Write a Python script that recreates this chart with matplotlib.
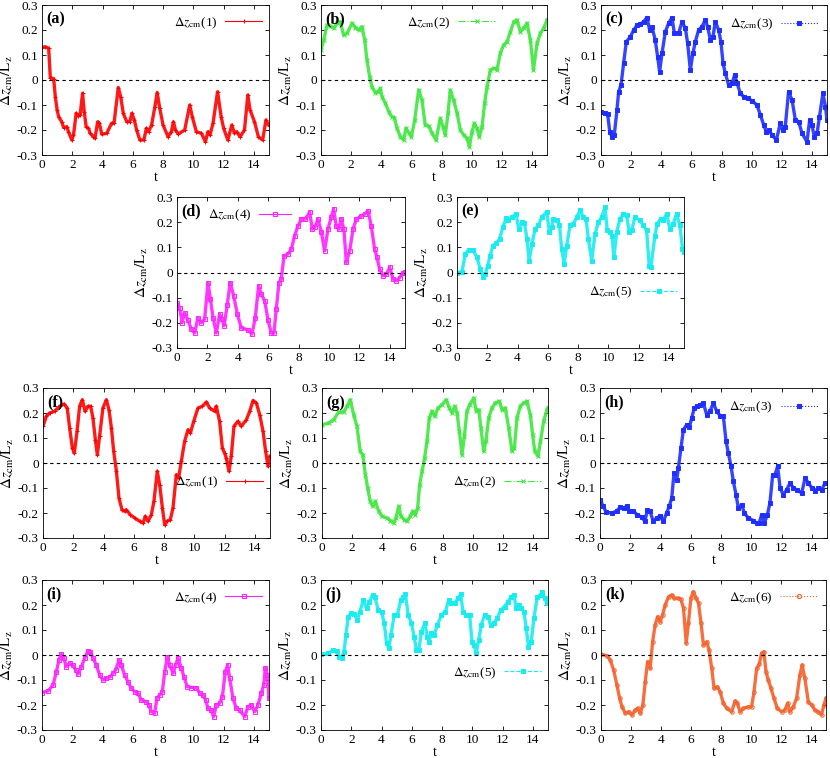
import matplotlib
matplotlib.use("Agg")
import matplotlib.pyplot as plt
from matplotlib.lines import Line2D

plt.rcParams['font.family'] = ['Liberation Serif', 'DejaVu Serif']
plt.rcParams['mathtext.fontset'] = 'stix'

# ---- data (t, dz_cm/Lz) ----
ta = [0, 0.2, 0.44, 0.55, 0.77, 0.88, 1.0, 1.1, 1.3, 1.43, 1.64, 1.75, 1.97, 2.08, 2.26, 2.41, 2.52, 2.68, 2.79,
      2.92, 3.07, 3.18, 3.4, 3.5, 3.68, 3.79, 3.95, 4.28, 4.6, 4.76, 5.04, 5.2, 5.37, 5.6, 5.8, 5.94, 6.1, 6.25,
      6.47, 6.73, 6.9, 7.04, 7.24, 7.46, 7.61, 7.78, 8.0, 8.33, 8.55, 8.68, 8.82, 9.0, 9.43, 9.76, 9.93, 10.2,
      10.53, 10.8, 10.96, 11.1, 11.3, 11.6, 11.84, 12.0, 12.28, 12.54, 12.72, 12.87, 13.09, 13.38, 13.6, 13.75,
      14.04, 14.3, 14.58, 14.8, 14.98]
za = [0.13, 0.133, 0.127, 0.01, 0.005, -0.067, -0.12, -0.147, -0.167, -0.19, -0.187, -0.207, -0.24, -0.22,
      -0.133, -0.144, -0.14, -0.053, -0.127, -0.187, -0.193, -0.213, -0.227, -0.233, -0.167, -0.173, -0.217,
      -0.213, -0.173, -0.173, -0.03, -0.067, -0.133, -0.167, -0.167, -0.133, -0.16, -0.2, -0.24, -0.24, -0.193,
      -0.207, -0.18, -0.107, -0.05, -0.113, -0.18, -0.227, -0.207, -0.167, -0.2, -0.216, -0.2, -0.1, -0.147,
      -0.207, -0.213, -0.247, -0.207, -0.22, -0.173, -0.047, -0.147, -0.193, -0.24, -0.18, -0.213, -0.207,
      -0.227, -0.2, -0.06, -0.12, -0.167, -0.227, -0.24, -0.16, -0.18]

tb = [0, 0.18, 0.4, 0.62, 0.84, 1.06, 1.28, 1.5, 1.73, 2.06, 2.28, 2.5, 2.72, 2.9, 3.05, 3.23, 3.38, 3.6, 3.78,
      3.94, 4.05, 4.27, 4.5, 4.7, 4.87, 5.04, 5.27, 5.49, 5.64, 5.82, 6.0, 6.22, 6.48, 6.7, 6.92, 7.15, 7.37,
      7.63, 7.92, 8.1, 8.25, 8.43, 8.58, 8.8, 9.03, 9.25, 9.47, 9.69, 9.85, 10.02, 10.18, 10.35, 10.5, 10.69,
      10.86, 11.02, 11.24, 11.46, 11.68, 11.9, 12.12, 12.35, 12.57, 12.8, 13.0, 13.24, 13.45, 13.67, 13.9, 14.1,
      14.34, 14.56, 14.78, 15.0]
zb = [0.12, 0.16, 0.22, 0.216, 0.207, 0.227, 0.233, 0.18, 0.187, 0.227, 0.21, 0.2, 0.213, 0.16, 0.08, 0.013,
      -0.027, -0.05, -0.047, -0.033, -0.067, -0.093, -0.127, -0.147, -0.15, -0.193, -0.227, -0.24, -0.193, -0.21,
      -0.227, -0.16, -0.04, -0.08, -0.18, -0.184, -0.213, -0.24, -0.153, -0.187, -0.22, -0.133, -0.04, -0.08,
      -0.133, -0.2, -0.22, -0.233, -0.267, -0.207, -0.173, -0.193, -0.227, -0.187, -0.093, -0.027, 0.04, 0.047,
      0.04, 0.107, 0.14, 0.153, 0.193, 0.233, 0.24, 0.193, 0.207, 0.227, 0.16, 0.04, 0.147, 0.187, 0.207, 0.24]

tc = [0, 0.29, 0.44, 0.58, 0.73, 0.88, 1.06, 1.17, 1.33, 1.5, 1.68, 1.95, 2.17, 2.4, 2.61, 2.83, 3.05, 3.23,
      3.38, 3.6, 3.76, 3.89, 4.05, 4.27, 4.49, 4.71, 4.87, 5.15, 5.38, 5.6, 5.75, 5.93, 6.1, 6.26, 6.48, 6.7,
      6.92, 7.08, 7.26, 7.43, 7.59, 7.81, 7.96, 8.1, 8.25, 8.47, 8.7, 8.87, 9.03, 9.25, 9.47, 9.73, 10.02, 10.35,
      10.58, 10.8, 10.97, 11.13, 11.35, 11.64, 11.9, 12.06, 12.23, 12.45, 12.68, 12.9, 13.12, 13.34, 13.67,
      13.85, 14.0, 14.16, 14.34, 14.5, 14.73, 14.9, 15.0]
zc = [-0.127, -0.133, -0.136, -0.207, -0.227, -0.22, -0.12, -0.047, -0.02, 0.067, 0.153, 0.173, 0.2, 0.22,
      0.224, 0.233, 0.25, 0.2, 0.213, 0.16, 0.093, 0.033, 0.107, 0.193, 0.227, 0.25, 0.187, 0.187, 0.233, 0.207,
      0.147, 0.04, 0.107, 0.153, 0.2, 0.213, 0.24, 0.213, 0.16, 0.173, 0.233, 0.2, 0.153, 0.067, 0.027, -0.02,
      -0.013, 0.02, -0.013, -0.053, -0.067, -0.073, -0.083, -0.1, -0.14, -0.18, -0.207, -0.2, -0.22, -0.24,
      -0.173, -0.2, -0.187, -0.047, -0.08, -0.16, -0.167, -0.213, -0.247, -0.16, -0.18, -0.227, -0.213, -0.147,
      -0.053, -0.107, -0.16]

td = [0, 0.18, 0.33, 0.5, 0.72, 0.94, 1.16, 1.38, 1.6, 1.82, 2.04, 2.2, 2.37, 2.59, 2.8, 2.96, 3.1, 3.3, 3.5,
      3.73, 3.97, 4.23, 4.67, 4.93, 5.15, 5.37, 5.55, 5.77, 5.99, 6.2, 6.38, 6.53, 6.71, 6.86, 7.04, 7.3, 7.52,
      7.74, 7.96, 8.18, 8.44, 8.73, 8.9, 9.06, 9.28, 9.5, 9.71, 9.93, 10.15, 10.3, 10.48, 10.64, 10.8, 10.98,
      11.14, 11.36, 11.58, 11.8, 12.13, 12.35, 12.57, 12.78, 13.0, 13.16, 13.33, 13.55, 13.77, 14.0, 14.21,
      14.43, 14.65, 14.87, 15.0]
zd = [-0.122, -0.14, -0.2, -0.16, -0.19, -0.225, -0.24, -0.18, -0.2, -0.185, -0.04, -0.106, -0.18, -0.24,
      -0.166, -0.185, -0.212, -0.13, -0.04, -0.093, -0.166, -0.22, -0.228, -0.245, -0.18, -0.053, -0.086, -0.113,
      -0.19, -0.24, -0.24, -0.146, -0.04, -0.026, 0.066, 0.073, 0.093, 0.146, 0.185, 0.212, 0.212, 0.24, 0.172,
      0.18, 0.212, 0.16, 0.086, 0.172, 0.22, 0.252, 0.185, 0.172, 0.212, 0.172, 0.04, 0.086, 0.172, 0.212, 0.225,
      0.232, 0.245, 0.185, 0.093, 0.06, 0.013, -0.013, -0.007, 0.02, -0.026, -0.033, -0.02, 0.0, 0.003]

te = [0, 0.33, 0.55, 0.77, 1.05, 1.32, 1.54, 1.71, 1.87, 2.02, 2.2, 2.37, 2.6, 2.81, 3.03, 3.25, 3.4, 3.63,
      3.91, 4.07, 4.29, 4.46, 4.62, 4.77, 4.95, 5.16, 5.38, 5.6, 5.93, 6.11, 6.26, 6.37, 6.59, 6.77, 6.92, 7.08,
      7.25, 7.47, 7.69, 7.91, 8.13, 8.35, 8.53, 8.68, 8.9, 9.12, 9.34, 9.56, 9.78, 9.93, 10.11, 10.24, 10.37,
      10.55, 10.77, 10.99, 11.21, 11.38, 11.54, 11.76, 12.09, 12.31, 12.53, 12.7, 12.81, 13.08, 13.23, 13.45,
      13.63, 13.85, 14.07, 14.29, 14.51, 14.73, 14.9, 15.0]
ze = [0, 0.003, 0.073, 0.09, 0.09, 0.06, 0.013, -0.016, -0.007, 0.027, 0.067, 0.107, 0.117, 0.133, 0.18, 0.216,
      0.207, 0.22, 0.233, 0.173, 0.2, 0.197, 0.133, 0.047, 0.113, 0.173, 0.187, 0.22, 0.24, 0.16, 0.18, 0.213,
      0.207, 0.187, 0.093, 0.033, 0.107, 0.187, 0.193, 0.22, 0.247, 0.22, 0.213, 0.133, 0.047, 0.153, 0.2, 0.22,
      0.26, 0.167, 0.16, 0.147, 0.06, 0.16, 0.213, 0.233, 0.227, 0.16, 0.167, 0.22, 0.207, 0.187, 0.167, 0.027,
      0.02, 0.147, 0.193, 0.213, 0.207, 0.233, 0.173, 0.193, 0.233, 0.187, 0.093, 0.08]

tf = [0, 0.22, 0.44, 0.77, 1.1, 1.39, 1.6, 1.76, 1.94, 2.07, 2.25, 2.42, 2.6, 2.78, 2.97, 3.15, 3.3, 3.46, 3.59,
      3.74, 3.96, 4.19, 4.36, 4.52, 4.67, 4.85, 5.02, 5.22, 5.4, 5.5, 5.77, 6.06, 6.39, 6.61, 6.76, 6.94, 7.16,
      7.33, 7.55, 7.71, 7.89, 8.04, 8.19, 8.41, 8.59, 8.81, 8.96, 9.14, 9.36, 9.58, 9.74, 9.96, 10.24, 10.53,
      10.8, 11.01, 11.34, 11.45, 11.67, 11.85, 12.0, 12.11, 12.29, 12.44, 12.62, 12.88, 13.1, 13.44, 13.66,
      13.88, 14.1, 14.32, 14.54, 14.71, 14.87, 15.0]
zf = [0.147, 0.187, 0.2, 0.207, 0.227, 0.236, 0.22, 0.14, 0.06, 0.04, 0.127, 0.227, 0.253, 0.207, 0.227,
      0.227, 0.18, 0.093, 0.033, 0.107, 0.22, 0.253, 0.213, 0.14, 0.047, -0.033, -0.14, -0.187, -0.193, -0.187,
      -0.207, -0.22, -0.233, -0.24, -0.213, -0.233, -0.207, -0.153, -0.033, -0.087, -0.18, -0.247, -0.233,
      -0.227, -0.18, -0.047, -0.06, 0.007, 0.087, 0.133, 0.12, 0.167, 0.22, 0.227, 0.244, 0.22, 0.207, 0.227,
      0.167, 0.06, 0.04, 0.02, -0.033, 0.027, 0.147, 0.167, 0.147, 0.173, 0.207, 0.25, 0.24, 0.193, 0.127,
      0.047, -0.013, 0.027]

tg = [0, 0.44, 0.77, 1.1, 1.44, 1.66, 1.88, 2.1, 2.32, 2.54, 2.7, 2.88, 3.03, 3.2, 3.36, 3.54, 3.76, 3.98,
      4.31, 4.54, 4.76, 4.91, 5.09, 5.24, 5.46, 5.64, 5.86, 6.02, 6.19, 6.35, 6.48, 6.64, 6.81, 6.97, 7.12, 7.3,
      7.48, 7.7, 7.96, 8.25, 8.45, 8.63, 8.8, 8.96, 9.12, 9.29, 9.45, 9.62, 9.8, 10.07, 10.24, 10.4, 10.55,
      10.73, 10.88, 11.06, 11.28, 11.5, 11.77, 11.95, 12.17, 12.39, 12.61, 12.77, 12.94, 13.16, 13.38, 13.6,
      13.83, 13.98, 14.12, 14.34, 14.5, 14.71, 14.93, 15.0]
zg = [0.153, 0.16, 0.173, 0.203, 0.204, 0.227, 0.253, 0.193, 0.147, 0.047, 0.033, -0.047, -0.1, -0.153, -0.173,
      -0.153, -0.193, -0.213, -0.22, -0.23, -0.24, -0.22, -0.173, -0.213, -0.227, -0.233, -0.213, -0.193,
      -0.207, -0.18, -0.087, -0.033, 0.02, 0.087, 0.18, 0.207, 0.187, 0.22, 0.233, 0.253, 0.22, 0.2, 0.227, 0.2,
      0.127, 0.033, 0.107, 0.207, 0.233, 0.26, 0.207, 0.213, 0.14, 0.047, 0.087, 0.18, 0.22, 0.24, 0.247, 0.213,
      0.22, 0.14, 0.047, 0.06, 0.18, 0.227, 0.24, 0.247, 0.193, 0.113, 0.047, 0.027, 0.087, 0.167, 0.213, 0.22]

th = [0, 0.22, 0.4, 0.77, 1.1, 1.32, 1.59, 1.76, 1.94, 2.2, 2.47, 2.75, 2.97, 3.13, 3.3, 3.52, 3.74, 3.96,
      4.19, 4.4, 4.58, 4.74, 4.89, 5.07, 5.18, 5.35, 5.51, 5.73, 5.9, 6.06, 6.23, 6.39, 6.61, 6.83, 7.05, 7.27,
      7.49, 7.71, 7.93, 8.15, 8.33, 8.48, 8.66, 8.81, 8.99, 9.14, 9.36, 9.54, 9.8, 10.13, 10.35, 10.52, 10.68,
      10.86, 11.06, 11.23, 11.41, 11.56, 11.74, 11.9, 12.11, 12.33, 12.56, 12.78, 13.0, 13.33, 13.55, 13.77,
      14.0, 14.2, 14.43, 14.65, 14.87, 15.0]
zh = [-0.147, -0.173, -0.196, -0.2, -0.193, -0.177, -0.18, -0.173, -0.193, -0.193, -0.207, -0.217, -0.233,
      -0.187, -0.193, -0.233, -0.22, -0.213, -0.233, -0.2, -0.173, -0.14, -0.04, -0.067, -0.02, 0.06, 0.133,
      0.153, 0.143, 0.18, 0.22, 0.227, 0.233, 0.24, 0.193, 0.207, 0.24, 0.207, 0.19, 0.187, 0.087, 0.04, -0.013,
      -0.073, -0.127, -0.18, -0.167, -0.2, -0.22, -0.23, -0.24, -0.24, -0.207, -0.24, -0.207, -0.16, -0.047,
      -0.047, -0.013, -0.1, -0.127, -0.107, -0.08, -0.1, -0.107, -0.12, -0.06, -0.08, -0.1, -0.11, -0.1, -0.107,
      -0.08, -0.08]

ti = [0, 0.4, 0.73, 0.95, 1.12, 1.28, 1.45, 1.6, 1.83, 2.05, 2.22, 2.38, 2.6, 2.82, 3.04, 3.2, 3.37, 3.59,
      3.81, 4.03, 4.25, 4.52, 4.69, 4.87, 5.09, 5.24, 5.46, 5.68, 5.9, 6.12, 6.34, 6.56, 6.9, 7.07, 7.22, 7.44,
      7.6, 7.78, 7.95, 8.11, 8.28, 8.44, 8.66, 8.83, 8.99, 9.21, 9.38, 9.6, 9.87, 10.2, 10.42, 10.64, 10.81,
      10.97, 11.19, 11.34, 11.52, 11.74, 11.92, 12.11, 12.27, 12.4, 12.62, 12.84, 13.06, 13.39, 13.61, 13.83,
      14.05, 14.27, 14.49, 14.65, 14.76, 14.89, 15.0]
zi = [-0.15, -0.144, -0.12, -0.067, -0.02, 0.003, -0.013, -0.047, -0.033, -0.04, -0.06, -0.077, -0.047,
      -0.013, 0.016, 0.013, -0.013, -0.04, -0.08, -0.1, -0.093, -0.087, -0.073, -0.06, -0.02, -0.04, -0.08,
      -0.107, -0.133, -0.147, -0.153, -0.18, -0.187, -0.2, -0.227, -0.233, -0.173, -0.16, -0.147, -0.067,
      -0.007, -0.04, -0.073, -0.04, -0.013, -0.053, -0.087, -0.127, -0.13, -0.13, -0.153, -0.16, -0.18, -0.213,
      -0.22, -0.247, -0.2, -0.193, -0.167, -0.067, -0.04, -0.093, -0.173, -0.213, -0.22, -0.247, -0.207, -0.2,
      -0.227, -0.2, -0.153, -0.12, -0.053, -0.08, -0.173]

tj = [0, 0.48, 0.81, 1.03, 1.19, 1.36, 1.52, 1.65, 1.8, 1.98, 2.2, 2.4, 2.57, 2.79, 3.01, 3.19, 3.41, 3.56,
      3.78, 4.0, 4.18, 4.33, 4.48, 4.62, 4.84, 5.05, 5.27, 5.43, 5.58, 5.76, 5.98, 6.15, 6.31, 6.46, 6.64, 6.86,
      7.03, 7.14, 7.3, 7.47, 7.69, 7.96, 8.22, 8.44, 8.62, 8.84, 9.05, 9.23, 9.38, 9.6, 9.82, 9.98, 10.11, 10.26,
      10.42, 10.59, 10.81, 11.03, 11.21, 11.43, 11.65, 11.87, 12.13, 12.35, 12.57, 12.75, 12.9, 13.08, 13.23,
      13.41, 13.56, 13.71, 13.89, 14.07, 14.29, 14.51, 14.62, 14.77, 14.95, 15.0]
zj = [0.003, 0.007, 0.02, 0.016, -0.007, -0.01, 0.013, 0.08, 0.153, 0.167, 0.163, 0.14, 0.173, 0.22, 0.187,
      0.213, 0.24, 0.233, 0.18, 0.173, 0.127, 0.047, 0.027, 0.08, 0.16, 0.16, 0.22, 0.233, 0.243, 0.16, 0.127,
      0.073, 0.02, 0.02, 0.093, 0.127, 0.073, 0.053, 0.087, 0.08, 0.12, 0.16, 0.173, 0.22, 0.207, 0.207, 0.227,
      0.243, 0.173, 0.16, 0.16, 0.053, 0.04, 0.007, 0.06, 0.12, 0.16, 0.153, 0.12, 0.127, 0.147, 0.18, 0.193,
      0.213, 0.233, 0.24, 0.187, 0.2, 0.187, 0.173, 0.107, 0.033, 0.053, 0.147, 0.233, 0.24, 0.253, 0.227,
      0.207, 0.207]

tk = [0, 0.4, 0.62, 0.84, 1.06, 1.24, 1.4, 1.62, 1.84, 2.06, 2.28, 2.44, 2.62, 2.79, 2.95, 3.1, 3.28, 3.44,
      3.61, 3.77, 3.95, 4.1, 4.28, 4.5, 4.72, 4.88, 5.1, 5.32, 5.5, 5.68, 5.83, 5.99, 6.16, 6.34, 6.5, 6.67,
      6.83, 7.05, 7.2, 7.38, 7.54, 7.76, 7.94, 8.16, 8.38, 8.71, 8.94, 9.09, 9.27, 9.49, 9.82, 10.04, 10.2,
      10.38, 10.55, 10.71, 10.86, 11.0, 11.15, 11.33, 11.53, 11.75, 12.04, 12.26, 12.44, 12.6, 12.82, 13.04,
      13.26, 13.41, 13.59, 13.82, 14.04, 14.26, 14.48, 14.7, 14.86, 15.0]
zk = [0.003, -0.003, -0.02, -0.06, -0.12, -0.173, -0.207, -0.233, -0.227, -0.24, -0.22, -0.213, -0.233, -0.2,
      -0.107, -0.027, -0.053, 0.053, 0.12, 0.153, 0.133, 0.16, 0.2, 0.233, 0.24, 0.227, 0.227, 0.223, 0.187,
      0.047, 0.127, 0.227, 0.253, 0.227, 0.207, 0.127, 0.04, 0.053, 0.02, -0.053, -0.133, -0.127, -0.147,
      -0.193, -0.213, -0.227, -0.184, -0.193, -0.227, -0.213, -0.207, -0.207, -0.147, -0.053, -0.037, 0.007,
      0.013, -0.067, -0.1, -0.133, -0.173, -0.213, -0.227, -0.22, -0.193, -0.227, -0.207, -0.173, -0.08, -0.04,
      -0.093, -0.187, -0.2, -0.22, -0.227, -0.24, -0.2, -0.173]

panels = ["(a)", "(b)", "(c)", "(d)", "(e)", "(f)", "(g)", "(h)", "(i)", "(j)", "(k)"]
particles = [1, 2, 3, 4, 5, 1, 2, 3, 4, 5, 6]
series = [(ta, za), (tb, zb), (tc, zc), (td, zd), (te, ze), (tf, zf), (tg, zg), (th, zh), (ti, zi), (tj, zj), (tk, zk)]

# ---- styles / layout (pixels of the 830x758 canvas) ----
W, H = 830, 758
boxes = [(42, 269, 5, 155), (321, 547, 5, 155), (601, 827, 5, 155),
         (177, 405, 197, 348), (457, 684, 197, 348),
         (43, 270, 388, 538), (322, 548, 388, 538), (600, 827, 388, 538),
         (42, 269, 580, 730), (321, 548, 580, 730), (601, 826, 580, 730)]
styles = {
    1: dict(color="#ff0000", marker="+", mfc="#ff0000", ls="-"),
    2: dict(color="#40e640", marker="x", mfc="#40e640", ls="-."),
    3: dict(color="#1f2fff", marker="s", mfc="#1f2fff", ls=":"),
    4: dict(color="#ff22ff", marker="s", mfc="none", ls="-"),
    5: dict(color="#19ecf0", marker="s", mfc="#19ecf0", ls="--"),
    6: dict(color="#f5602a", marker="o", mfc="none", ls=":"),
}
leg_pos = [(0.97, 0.88), (0.77, 0.88), (0.96, 0.87), (0.50, 0.88), (0.97, 0.37), (0.97, 0.37),
           (0.97, 0.37), (0.96, 0.87), (0.97, 0.88), (0.97, 0.38), (0.96, 0.88)]

fig = plt.figure(figsize=(W / 100, H / 100), dpi=100)

for i, (t, z) in enumerate(series):
    x0, x1, y0, y1 = boxes[i]
    ax = fig.add_axes([x0 / W, (H - y1) / H, (x1 - x0) / W, (y1 - y0) / H])
    st = styles[particles[i]]
    ax.plot(t, z, color=st["color"], lw=2.4, alpha=0.9, solid_joinstyle="round")
    ax.plot(t, z, ls="none", marker=st["marker"], ms=2.5, mew=0.7, color=st["color"], mfc=st["mfc"])
    ax.axhline(0, color="black", ls=(0, (3, 3)), lw=0.8)
    ax.set_xlim(0, 15)
    ax.set_ylim(-0.3, 0.3)
    ax.set_xticks(range(0, 15, 2))
    ax.set_yticks([-0.3, -0.2, -0.1, 0, 0.1, 0.2, 0.3])
    ax.set_yticklabels(["-0.3", "-0.2", "-0.1", "0", "0.1", "0.2", "0.3"])
    ax.tick_params(direction="in", top=True, right=True, labelsize=9.5, length=3, width=0.6, pad=3)
    for sp in ax.spines.values():
        sp.set_linewidth(0.6)
    ax.set_xlabel("t", fontsize=10, labelpad=0)
    ax.set_ylabel(r"$\Delta z_{\rm cm}/{\rm L_z}$", fontsize=11, labelpad=1)
    ax.text(0.02, 0.955, panels[i], transform=ax.transAxes, fontsize=11.5, fontweight="bold",
            va="top", ha="left")
    h = Line2D([], [], color=st["color"], ls=st["ls"], lw=0.8, marker=st["marker"], ms=3,
               mfc=st["mfc"], mew=0.8)
    hl = 2.4 if i == 3 else 2.8
    ax.legend([h], [r"$\Delta z_{\rm cm}$(%d)" % particles[i]], loc="center right",
              bbox_to_anchor=leg_pos[i], frameon=False, markerfirst=False, numpoints=1,
              handlelength=hl, fontsize=9.5, borderpad=0, borderaxespad=0, handletextpad=0.6)

fig.savefig("out.png", dpi=100)
